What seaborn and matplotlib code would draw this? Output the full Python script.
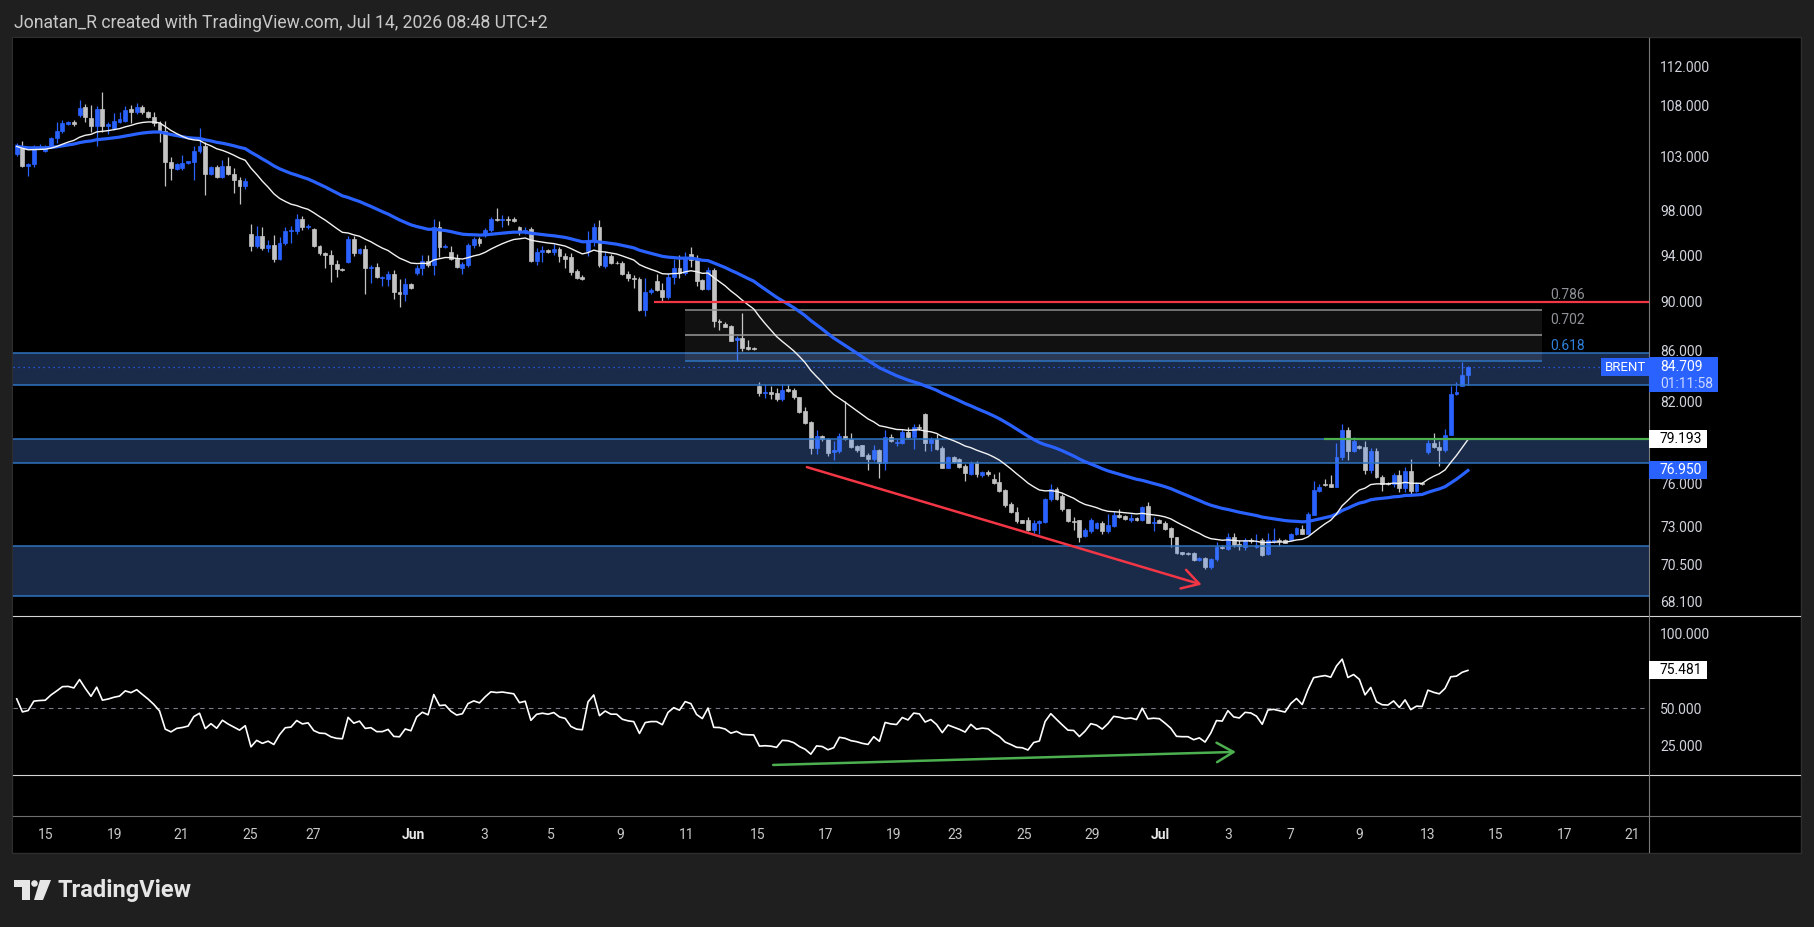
import numpy as np
import pandas as pd
import seaborn as sns
import matplotlib.pyplot as plt
from matplotlib.patches import Rectangle, Polygon, Circle
from matplotlib.lines import Line2D
from matplotlib.transforms import IdentityTransform
from matplotlib.ticker import FixedLocator, FixedFormatter, NullLocator

plt.rcParams['font.family'] = ['Roboto', 'DejaVu Sans']

# ---- 4h candles, Brent ----
opens = [
    103.3, 104.0, 102.1, 102.3, 103.8, 103.6, 103.9, 104.8, 105.5, 106.2,
    106.4, 107.1, 107.9, 106.8, 106.0, 107.7, 106.0, 105.8, 106.4, 106.5,
    107.7, 107.4, 107.9, 107.4, 106.9, 106.3, 105.5, 102.5, 101.8, 101.9,
    102.4, 102.5, 103.6, 104.0, 101.4, 102.0, 101.1, 102.1, 101.4, 100.8,
    100.2, 95.9, 94.8, 95.7, 94.6, 94.9, 93.7, 95.05, 96.1, 96.15,
    97.2, 96.45, 96.3, 94.8, 94.15, 94.0, 93.2, 92.8, 93.4, 95.4,
    94.2, 94.5, 92.9, 93.0, 92.0, 91.95, 92.35, 90.85, 90.7, 91.55,
    92.45, 92.85, 93.5, 93.1, 96.5, 94.7, 94.3, 93.7, 92.9, 93.15,
    94.9, 95.4, 95.8, 96.2, 97.2, 97.1, 97.2, 97.2, 96.5, 96.0,
    96.3, 93.5, 94.25, 94.45, 94.3, 94.5, 93.9, 93.8, 92.6, 92.1,
    94.35, 95.3, 96.5, 93.05, 93.9, 93.35, 93.35, 92.4, 92.05, 91.9,
    89.3, 90.85, 91.75, 91.0, 90.4, 92.1, 92.85, 92.45, 94.1, 93.6,
    91.85, 91.05, 92.7, 88.45, 88.2, 88.0, 86.85, 87.0, 86.3, 86.2,
    83.2, 82.7, 82.75, 82.65, 82.2, 83.0, 82.95, 82.35, 81.3, 80.45,
    78.6, 79.45, 79.2, 78.25, 78.35, 79.45, 79.25, 78.7, 78.75, 78.05,
    77.75, 78.4, 77.45, 79.35, 78.9, 78.9, 79.75, 79.4, 80.15, 81.1,
    78.95, 79.2, 78.6, 77.15, 77.9, 77.8, 77.25, 76.7, 77.45, 76.6,
    76.8, 76.35, 76.1, 75.55, 74.55, 74.05, 73.45, 73.45, 72.8, 73.3,
    73.35, 74.9, 75.65, 75.1, 74.2, 73.4, 73.45, 72.4, 72.75, 72.95,
    73.25, 72.7, 73.1, 73.8, 73.75, 73.45, 73.6, 73.45, 74.45, 73.3,
    73.45, 73.3, 72.9, 72.3, 71.3, 71.25, 71.25, 70.8, 70.9, 70.35,
    70.85, 71.65, 71.55, 72.35, 71.85, 71.65, 72.15, 71.65, 72.1, 71.2,
    72.05, 72.15, 72.15, 72.15, 72.5, 72.85, 72.55, 73.85, 75.5, 76.0,
    75.95, 75.8, 77.9, 79.9, 78.35, 78.7, 78.65, 76.95, 78.35, 76.5,
    76.05, 76.0, 76.6, 75.7, 76.9, 75.45, 76.05, 78.3, 78.9, 78.65,
    78.45, 79.55, 82.6, 83.25, 84.05,
]
highs = [
    104.3, 104.5, 102.4, 104.1, 104.2, 104.1, 104.9, 106.4, 106.6, 106.5,
    106.6, 108.6, 108.2, 108.1, 108.0, 109.4, 106.35, 107.3, 107.4, 108.0,
    108.1, 108.3, 108.1, 107.5, 107.4, 106.5, 106.5, 103.0, 102.4, 103.2,
    102.6, 104.0, 105.8, 104.4, 102.1, 102.2, 102.7, 103.0, 101.9, 101.1,
    101.0, 96.75, 96.6, 96.5, 95.3, 95.8, 95.6, 96.5, 96.55, 97.7,
    97.5, 96.8, 96.4, 94.9, 94.3, 94.45, 93.55, 92.85, 95.7, 95.7,
    94.6, 94.9, 93.15, 93.3, 92.2, 92.6, 92.7, 91.9, 92.0, 91.6,
    93.1, 94.0, 94.0, 97.2, 97.0, 95.0, 94.8, 94.1, 93.4, 95.1,
    95.6, 95.6, 96.4, 97.4, 98.2, 97.6, 97.5, 97.35, 96.6, 96.5,
    96.5, 94.6, 94.8, 94.5, 95.0, 94.75, 94.15, 94.2, 92.8, 92.3,
    96.1, 96.85, 97.1, 94.4, 94.1, 93.5, 93.5, 92.6, 92.3, 92.1,
    92.05, 91.2, 92.35, 91.6, 92.45, 93.7, 94.0, 94.3, 94.7, 94.0,
    91.9, 93.0, 92.85, 88.6, 88.3, 88.1, 87.15, 89.1, 86.9, 86.3,
    83.55, 83.4, 83.2, 83.1, 83.4, 83.4, 83.1, 82.4, 81.6, 80.55,
    79.9, 79.55, 79.3, 79.1, 79.7, 82.05, 79.7, 78.8, 78.8, 78.2,
    78.75, 78.5, 79.9, 79.6, 79.2, 80.0, 80.1, 80.35, 80.3, 81.2,
    79.4, 79.6, 78.7, 77.95, 78.0, 77.85, 77.4, 77.6, 77.6, 76.9,
    77.0, 76.7, 76.85, 75.65, 74.7, 74.4, 73.5, 73.7, 73.5, 73.5,
    75.0, 75.95, 75.8, 75.3, 74.25, 73.65, 73.5, 72.9, 73.6, 73.35,
    73.4, 73.9, 74.1, 74.2, 73.8, 73.9, 73.65, 74.45, 74.75, 73.65,
    73.55, 73.4, 73.0, 72.35, 71.35, 71.35, 71.35, 71.0, 71.0, 70.95,
    72.0, 71.8, 72.6, 72.6, 72.1, 72.25, 72.25, 72.5, 72.25, 72.6,
    72.9, 72.25, 72.2, 72.6, 73.0, 73.15, 74.0, 76.2, 76.0, 76.35,
    76.65, 78.95, 80.3, 80.15, 79.35, 78.8, 79.1, 78.6, 78.55, 76.6,
    76.1, 76.75, 77.0, 77.2, 77.75, 76.1, 76.15, 79.15, 79.7, 79.1,
    79.95, 83.2, 83.5, 85.1, 84.8,
]
lows = [
    103.1, 102.0, 101.2, 102.0, 103.7, 103.5, 103.8, 104.3, 105.3, 106.1,
    106.0, 106.9, 106.4, 105.4, 104.0, 105.4, 105.2, 105.6, 106.3, 106.4,
    106.3, 107.2, 107.2, 106.8, 106.0, 104.4, 100.2, 100.8, 101.7, 101.7,
    102.3, 100.8, 103.4, 99.4, 101.3, 101.0, 100.95, 101.25, 99.55, 98.6,
    100.0, 94.4, 94.6, 94.45, 94.3, 93.4, 93.6, 94.9, 95.1, 95.9,
    96.2, 96.3, 94.7, 94.0, 92.85, 91.7, 92.1, 92.6, 93.3, 93.9,
    94.1, 90.7, 91.6, 92.0, 91.3, 91.3, 90.2, 89.6, 90.1, 91.1,
    92.3, 92.3, 93.0, 92.3, 93.8, 94.6, 93.6, 92.9, 92.4, 93.0,
    94.6, 94.8, 95.6, 96.0, 97.0, 96.5, 96.7, 96.9, 95.8, 95.9,
    93.4, 93.1, 93.4, 94.2, 94.0, 93.4, 92.9, 92.3, 91.9, 91.85,
    93.95, 94.8, 93.0, 92.9, 93.2, 93.2, 92.3, 91.8, 91.2, 89.2,
    88.8, 90.7, 90.95, 90.0, 90.2, 91.5, 92.0, 92.3, 93.0, 91.3,
    91.0, 91.0, 87.9, 87.7, 87.9, 86.75, 85.2, 85.95, 86.05, 86.05,
    82.45, 82.3, 82.25, 82.05, 82.05, 82.8, 82.2, 81.2, 80.3, 78.1,
    78.1, 79.1, 77.95, 77.7, 78.2, 79.15, 78.55, 78.3, 77.95, 76.95,
    77.6, 76.4, 77.0, 79.0, 78.7, 78.85, 79.3, 78.5, 79.9, 78.35,
    78.35, 78.4, 77.1, 77.1, 77.45, 77.1, 76.2, 76.6, 76.5, 76.5,
    76.55, 76.0, 75.4, 74.4, 73.95, 73.3, 73.25, 72.7, 72.6, 72.5,
    73.25, 74.8, 74.85, 74.1, 73.35, 72.8, 72.0, 72.3, 72.6, 72.85,
    72.55, 72.6, 73.0, 73.6, 73.5, 73.35, 73.4, 73.4, 73.25, 72.7,
    73.25, 72.8, 71.65, 71.2, 71.15, 71.1, 70.75, 70.7, 70.2, 70.2,
    70.75, 71.5, 71.45, 71.65, 71.45, 71.45, 71.95, 71.6, 71.05, 71.15,
    71.95, 71.75, 71.9, 72.1, 72.45, 72.5, 72.5, 73.8, 75.4, 75.85,
    75.75, 75.75, 77.7, 77.7, 78.25, 78.5, 76.7, 76.75, 76.4, 75.45,
    75.9, 75.75, 75.4, 75.4, 75.3, 75.4, 75.9, 78.15, 78.6, 77.25,
    78.3, 79.5, 82.55, 83.25, 83.3,
]
closes = [
    104.0, 102.1, 102.3, 103.8, 103.9, 103.95, 104.8, 105.5, 106.3, 106.35,
    106.2, 107.8, 106.9, 106.0, 107.7, 106.0, 106.2, 106.5, 106.7, 107.6,
    107.4, 107.9, 107.4, 106.9, 106.3, 105.5, 102.5, 101.9, 102.3, 102.4,
    102.55, 103.6, 104.0, 101.4, 102.0, 101.1, 102.1, 101.4, 100.8, 100.2,
    100.7, 94.8, 95.7, 94.6, 94.9, 93.7, 95.05, 96.1, 96.2, 97.2,
    96.45, 96.6, 94.8, 94.15, 94.05, 93.2, 92.8, 92.7, 95.4, 94.2,
    94.5, 92.9, 93.0, 92.1, 92.1, 92.35, 90.8, 90.7, 91.55, 91.2,
    92.85, 93.5, 93.1, 96.5, 94.7, 94.8, 93.7, 93.0, 93.2, 94.9,
    95.4, 95.1, 96.2, 97.2, 97.1, 97.2, 97.1, 97.0, 96.0, 96.2,
    93.5, 94.3, 94.45, 94.3, 94.5, 93.9, 93.7, 92.5, 92.05, 91.95,
    95.3, 96.5, 93.1, 93.9, 93.3, 93.3, 92.35, 92.05, 91.9, 89.35,
    90.85, 91.0, 91.0, 90.4, 92.1, 92.85, 92.45, 93.85, 93.55, 91.8,
    91.05, 92.7, 88.4, 88.35, 87.95, 86.8, 87.05, 86.25, 86.15, 86.1,
    82.7, 82.75, 82.6, 82.2, 82.95, 82.85, 82.35, 81.25, 80.4, 78.6,
    79.45, 79.25, 78.2, 78.4, 79.45, 79.2, 78.65, 78.4, 78.0, 77.75,
    78.4, 77.45, 79.35, 79.1, 79.0, 79.75, 79.4, 80.15, 80.05, 78.95,
    79.2, 78.5, 77.15, 77.9, 77.55, 77.2, 76.75, 77.45, 76.7, 76.8,
    76.7, 76.05, 75.5, 74.5, 74.0, 73.4, 73.3, 72.8, 73.3, 73.4,
    74.9, 75.65, 74.95, 74.2, 73.4, 73.35, 72.35, 72.8, 73.45, 73.25,
    72.7, 73.15, 73.8, 73.7, 73.55, 73.6, 73.45, 74.35, 73.3, 73.35,
    73.3, 72.85, 72.3, 71.25, 71.2, 71.2, 70.8, 70.9, 70.35, 70.85,
    71.65, 71.6, 72.35, 71.8, 71.7, 72.1, 72.05, 71.8, 71.1, 72.1,
    72.15, 72.05, 71.95, 72.55, 72.95, 72.55, 73.9, 75.55, 75.75, 75.9,
    75.8, 77.9, 79.9, 78.35, 79.05, 78.6, 76.95, 78.35, 76.45, 76.0,
    75.95, 76.6, 75.7, 76.9, 75.45, 76.0, 75.95, 78.95, 78.65, 78.45,
    79.55, 82.6, 82.8, 84.05, 84.71,
]

day_ticks = [5.1, 17.2, 28.8, 40.8, 51.9, 69.5, 81.8, 93.5, 105.6, 117.3, 129.6, 141.5,
             153.4, 164.2, 176.3, 188.2, 200.1, 212.0, 223.0, 234.9, 247.0, 258.9, 271.0, 282.7]
day_labels = ['15', '19', '21', '25', '27', 'Jun', '3', '5', '9', '11', '15', '17',
              '19', '23', '25', '29', 'Jul', '3', '7', '9', '13', '15', '17', '21']

price_ticks = [112.0, 108.0, 103.0, 98.0, 94.0, 90.0, 86.0, 82.0, 76.0, 73.0, 70.5, 68.1]
rsi_ticks = [100.0, 50.0, 25.0]

zones = [(83.29, 85.80), (77.45, 79.19), (68.44, 71.69)]
fib_levels = [89.30, 87.26, 85.17]
fib_names = ['0.786', '0.702', '0.618']
fib_span = (117.0, 266.9)
red_level, red_start = 90.0, 111.5
green_level, green_start = 79.193, 228.8
red_arrow = [(138.3, 77.18), (207.4, 69.19)]
green_arrow = [(132.4, 12.2), (213.4, 20.9)]

last_price = 84.709
countdown = '01:11:58'
ema_fast_last, ema_slow_last, rsi_last = 79.193, 76.950, 75.481
# average gain / loss carried in from before the first visible bar (RSI ~56 at the left edge)
rsi_seed = (0.45, 0.35)

# ---- derived ----
df = pd.DataFrame({'open': opens, 'high': highs, 'low': lows, 'close': closes})
df['bar'] = np.arange(len(df))
df['ema_fast'] = df['close'].ewm(span=20, adjust=False).mean()
df['ema_slow'] = df['close'].ewm(span=50, adjust=False).mean()

g, l = rsi_seed
rsi = [100 - 100 / (1 + g / l)]
for d in np.diff(closes):
    g = (g * 13 + max(d, 0.0)) / 14
    l = (l * 13 + max(-d, 0.0)) / 14
    rsi.append(100 - 100 / (1 + g / l))
df['rsi'] = rsi

W, H, DPI = 1814, 927, 100
BLUE = '#2962ff'
GRAY = '#c3c3c3'
RED = '#f23645'
GREEN = '#4caf50'
TXT = '#d1d4dc'
ZONE_FILL = (0.34, 0.56, 0.97, 0.30)
ZONE_EDGE = '#2f74c0'
XLIM = (-0.65, 285.7)

fig = plt.figure(figsize=(W / DPI, H / DPI), dpi=DPI, facecolor='#1f1f1f')


def box(x0, y0, x1, y1):
    return [x0 / W, 1 - y1 / H, (x1 - x0) / W, (y1 - y0) / H]


fig.add_artist(Rectangle((12, H - 853), 1789, 816, transform=IdentityTransform(),
                         facecolor='black', edgecolor='#2e2e2e', lw=1, zorder=-5))

ax = fig.add_axes(box(13, 38, 1649, 616))
ax_rsi = fig.add_axes(box(13, 616, 1649, 775), sharex=ax)
ax_time = fig.add_axes(box(13, 816, 1649, 852), sharex=ax)
for a in (ax, ax_rsi, ax_time):
    a.set_facecolor('black')
    for s in a.spines.values():
        s.set_visible(False)

# ---- price pane ----
ax.set_yscale('log')
up = df['close'] >= df['open']
col = np.where(up, BLUE, GRAY)
ax.vlines(df['bar'], df['low'], df['high'], colors=col, lw=0.9, zorder=2)
ax.bar(df['bar'], (df['close'] - df['open']).abs(), bottom=np.minimum(df['open'], df['close']),
       width=0.68, color=col, edgecolor=col, linewidth=0.5, zorder=2)

for lo, hi in zones:
    ax.axhspan(lo, hi, facecolor=ZONE_FILL, edgecolor='none', zorder=3)
    ax.axhline(lo, color=ZONE_EDGE, lw=1.1, zorder=3)
    ax.axhline(hi, color=ZONE_EDGE, lw=1.1, zorder=3)

ax.fill_between(fib_span, fib_levels[-1], fib_levels[0], color='white', alpha=0.07, lw=0, zorder=3)
fib_cols = ['#8c8c8c', '#9a9a9a', '#2f74c0']
fib_txt = ['#8f9299', '#8f9299', '#2f7fd8']
ax.hlines(fib_levels, fib_span[0], fib_span[1], colors=fib_cols, lw=1.1, zorder=4)
for lvl, name, c in zip(fib_levels, fib_names, fib_txt):
    ax.annotate(name, xy=(fib_span[1], lvl), xytext=(9, 15), textcoords='offset pixels',
                ha='left', va='center', color=c, fontsize=10, zorder=6)

ax.hlines(red_level, red_start, XLIM[1] + 5, colors=RED, lw=1.6, zorder=6)
ax.hlines(green_level, green_start, XLIM[1] + 5, colors=GREEN, lw=1.6, zorder=6)
ax.axhline(last_price, color=BLUE, ls=(0, (1, 3)), lw=0.9, zorder=5)

sns.lineplot(data=df, x='bar', y='ema_slow', ax=ax, color=BLUE, linewidth=2.3,
             estimator=None, legend=False, zorder=5)
sns.lineplot(data=df, x='bar', y='ema_fast', ax=ax, color='#f2f2f2', linewidth=1.0,
             estimator=None, legend=False, zorder=5)

arrow_style = dict(arrowstyle='->,head_length=0.6,head_width=0.35', lw=1.8,
                   shrinkA=0, shrinkB=0, mutation_scale=20)
ax.annotate('', xy=red_arrow[1], xytext=red_arrow[0],
            arrowprops=dict(color=RED, **arrow_style), zorder=6)

ax.set_xlim(*XLIM)
ax.set_ylim(67.2, 115.03)
ax.yaxis.tick_right()
ax.yaxis.set_major_locator(FixedLocator(price_ticks))
ax.yaxis.set_major_formatter(FixedFormatter([f'{t:.3f}' for t in price_ticks]))
ax.yaxis.set_minor_locator(NullLocator())
ax.tick_params(axis='y', which='both', length=0, pad=8, labelsize=10, labelcolor=TXT)
ax.tick_params(axis='x', bottom=False, labelbottom=False)
ax.set_xlabel('')
ax.set_ylabel('')

# ---- RSI pane ----
sns.lineplot(data=df, x='bar', y='rsi', ax=ax_rsi, color='white', linewidth=1.2,
             estimator=None, legend=False, zorder=4)
ax_rsi.axhline(50, color='#787b86', ls=(0, (4, 4)), lw=0.8, zorder=2)
ax_rsi.annotate('', xy=green_arrow[1], xytext=green_arrow[0],
                arrowprops=dict(color=GREEN, **arrow_style), zorder=5)
ax_rsi.set_ylim(5.5, 111.5)
ax_rsi.yaxis.tick_right()
ax_rsi.set_yticks(rsi_ticks)
ax_rsi.set_yticklabels([f'{t:.3f}' for t in rsi_ticks])
ax_rsi.tick_params(axis='y', length=0, pad=8, labelsize=10, labelcolor=TXT)
ax_rsi.tick_params(axis='x', bottom=False, labelbottom=False)
ax_rsi.set_xlabel('')
ax_rsi.set_ylabel('')

# ---- time axis ----
ax_time.set_ylim(0, 1)
ax_time.set_yticks([])
ax_time.set_xticks(day_ticks)
ax_time.set_xticklabels(day_labels)
ax_time.tick_params(axis='x', length=0, pad=-17, labelsize=10, labelcolor='#c8c8c8')
for t in ax_time.get_xticklabels():
    if t.get_text() in ('Jun', 'Jul'):
        t.set_fontweight('bold')
        t.set_color('#e6e6e6')
ax_time.set_xlim(*XLIM)

# ---- separators ----
for yy, c in ((616, '#d4d4d4'), (775, '#d4d4d4'), (816, '#6e6e6e')):
    fig.add_artist(Line2D([13, 1800], [H - yy, H - yy], transform=IdentityTransform(), color=c, lw=0.8))
fig.add_artist(Line2D([1649, 1649], [H - 852, H - 38], transform=IdentityTransform(), color='#7a7a7a', lw=0.8))


# ---- axis tags ----
def tag(axis, value, text, fc, tc, width=58, height=18):
    yd = axis.transData.transform((0, value))[1]
    fig.add_artist(Rectangle((1649, yd - height / 2), width, height, transform=IdentityTransform(),
                             facecolor=fc, edgecolor='none', zorder=10))
    fig.text(1660 / W, yd / H, text, color=tc, fontsize=10, ha='left', va='center', zorder=11)


yp = ax.transData.transform((0, last_price))[1]
fig.add_artist(Rectangle((1649, yp - 25), 69, 35, transform=IdentityTransform(),
                         facecolor=BLUE, edgecolor='none', zorder=10))
fig.text(1660 / W, yp / H, f'{last_price:.3f}', color='white', fontsize=10, ha='left', va='center', zorder=11)
fig.text(1660 / W, (yp - 17) / H, countdown, color='#c9d6ff', fontsize=10, ha='left', va='center', zorder=11)
fig.add_artist(Rectangle((1601, yp - 9), 48, 18, transform=IdentityTransform(),
                         facecolor=BLUE, edgecolor='none', zorder=10))
fig.text(1625 / W, yp / H, 'BRENT', color='white', fontsize=9.5, ha='center', va='center', zorder=11)

tag(ax, ema_fast_last, f'{ema_fast_last:.3f}', 'white', 'black')
tag(ax, ema_slow_last, f'{ema_slow_last:.3f}', BLUE, 'white')
tag(ax_rsi, rsi_last, f'{rsi_last:.3f}', 'white', 'black')

# ---- header and logo ----
fig.text(14 / W, 1 - 23 / H, 'Jonatan_R created with TradingView.com, Jul 14, 2026 08:48 UTC+2',
         color='#c8c8c8', fontsize=12.7, ha='left', va='center')
logo = '#e6e6e6'
fig.add_artist(Polygon([(14, H - 880), (30, H - 880), (30, H - 900), (22, H - 900), (22, H - 887), (14, H - 887)],
                       closed=True, transform=IdentityTransform(), facecolor=logo, edgecolor='none'))
fig.add_artist(Circle((34.5, H - 883.5), 3.3, transform=IdentityTransform(), facecolor=logo, edgecolor='none'))
fig.add_artist(Polygon([(40, H - 880), (51, H - 880), (43, H - 900), (34, H - 900)],
                       closed=True, transform=IdentityTransform(), facecolor=logo, edgecolor='none'))
fig.text(57 / W, 1 - 890 / H, 'TradingView', color=logo, fontsize=17, fontweight='bold',
         ha='left', va='center')

fig.savefig('out.png', dpi=DPI, facecolor=fig.get_facecolor())
